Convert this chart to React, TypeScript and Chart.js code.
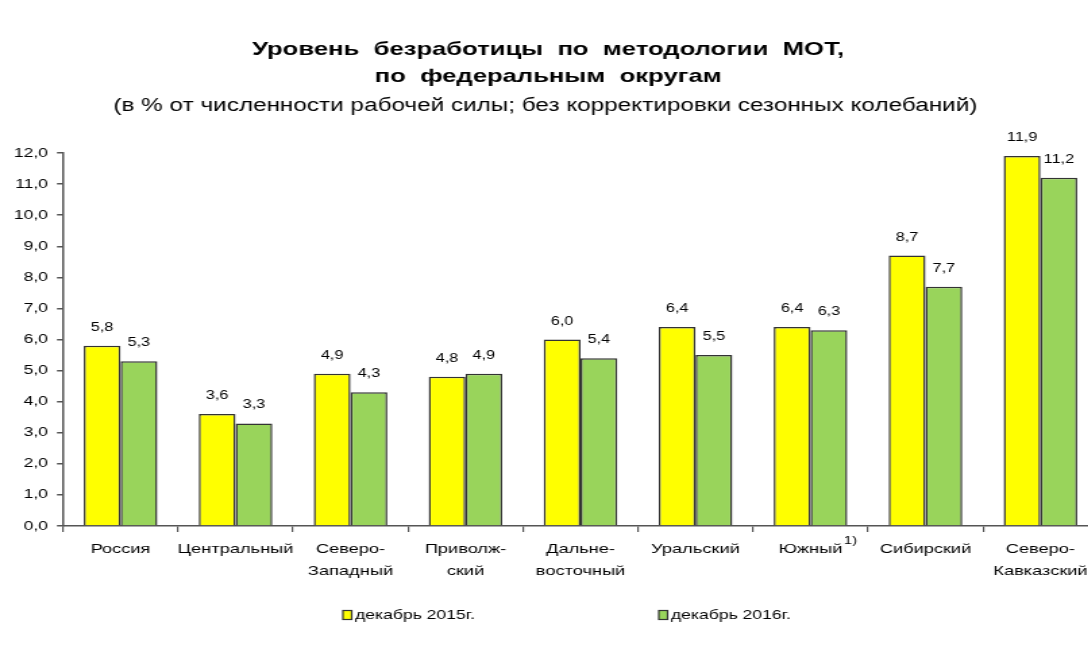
import React, { useEffect, useRef } from 'react';
import { Chart, registerables } from 'chart.js';

Chart.register(...registerables);

const categories: (string | string[])[] = [
  'Россия',
  'Центральный',
  ['Северо-', 'Западный'],
  ['Приволж-', 'ский'],
  ['Дальне-', 'восточный'],
  'Уральский',
  'Южный',
  'Сибирский',
  ['Северо-', 'Кавказский'],
];
const dec2015 = [5.8, 3.6, 4.9, 4.8, 6.0, 6.4, 6.4, 8.7, 11.9];
const dec2016 = [5.3, 3.3, 4.3, 4.9, 5.4, 5.5, 6.3, 7.7, 11.2];
const seriesNames = ['декабрь 2015г.', 'декабрь 2016г.'];
const seriesColors = ['#FFFF00', '#99D45B'];
const titleLines = ['Уровень  безработицы  по  методологии  МОТ,', 'по  федеральным  округам'];
const subtitleText = '(в % от численности рабочей силы; без корректировки сезонных колебаний)';
const footnoteIndex = 6;
const footnoteMark = '1)';
const yMin = 0;
const yMax = 12;
const yStep = 1;

const FONT = '"Liberation Sans", Arial, sans-serif';
const STRETCH = 1.35;
const CW = 850;
const CH = 657;
const XFONT = 13.5;

const fmt = (v: number) => v.toFixed(1).replace('.', ',');

const valueLabels = {
  id: 'valueLabels',
  afterDatasetsDraw(chart: any) {
    const ctx = chart.ctx;
    ctx.save();
    ctx.font = `12px ${FONT}`;
    ctx.fillStyle = '#000';
    ctx.textAlign = 'center';
    ctx.textBaseline = 'alphabetic';
    chart.data.datasets.forEach((ds: any, di: number) => {
      const meta = chart.getDatasetMeta(di);
      meta.data.forEach((el: any, i: number) => {
        ctx.fillText(fmt(ds.data[i]), el.x, el.y - 15);
      });
    });
    ctx.restore();
  },
};

const decorations = {
  id: 'decorations',
  afterDraw(chart: any) {
    const ctx = chart.ctx;
    const area = chart.chartArea;
    ctx.save();
    ctx.fillStyle = '#000';
    ctx.textAlign = 'center';
    ctx.textBaseline = 'middle';
    const tx = 406;
    ctx.font = `bold 19px ${FONT}`;
    ctx.fillText(titleLines[0], tx, 50);
    ctx.fillText(titleLines[1], tx, 77);
    ctx.font = `18px ${FONT}`;
    ctx.fillText(subtitleText, tx - 2, 106);

    // footnote mark next to label
    const xs = chart.scales.x;
    ctx.font = `${XFONT}px ${FONT}`;
    const lw = ctx.measureText(String(categories[footnoteIndex])).width;
    ctx.font = `11px ${FONT}`;
    ctx.textAlign = 'left';
    ctx.fillText(footnoteMark, xs.getPixelForValue(footnoteIndex) + lw / 2 + 1, 541);

    // legend
    const cx = (area.left + area.right) / 2;
    const starts = [cx - 176, cx + 58];
    const ly = 615;
    ctx.font = `13px ${FONT}`;
    seriesNames.forEach((name, i) => {
      const bx = starts[i];
      ctx.fillStyle = seriesColors[i];
      ctx.fillRect(bx, ly - 4.5, 6.5, 9);
      ctx.strokeStyle = '#333';
      ctx.lineWidth = 1.2;
      ctx.strokeRect(bx, ly - 4.5, 6.5, 9);
      ctx.fillStyle = '#000';
      ctx.textAlign = 'left';
      ctx.fillText(name, bx + 9, ly + 0.5);
    });
    ctx.restore();
  },
};

export default function App() {
  const ref = useRef<HTMLCanvasElement | null>(null);
  useEffect(() => {
    if (!ref.current) return;
    const chart = new Chart(ref.current, {
      type: 'bar',
      data: {
        labels: categories as any,
        datasets: [
          {
            label: seriesNames[0],
            data: dec2015,
            backgroundColor: seriesColors[0],
            borderColor: '#333',
            borderWidth: 1.5,
            barPercentage: 1,
            categoryPercentage: 0.64,
          },
          {
            label: seriesNames[1],
            data: dec2016,
            backgroundColor: seriesColors[1],
            borderColor: '#333',
            borderWidth: 1.5,
            barPercentage: 1,
            categoryPercentage: 0.64,
          },
        ],
      },
      options: {
        responsive: false,
        animation: false,
        devicePixelRatio: 1,
        layout: { padding: { top: 153, left: 0, right: CW - 813.3, bottom: 0 } },
        plugins: {
          legend: { display: false },
          title: { display: false },
          tooltip: { enabled: false },
        },
        scales: {
          x: {
            grid: {
              offset: true,
              drawOnChartArea: false,
              drawTicks: true,
              tickLength: 6,
              color: '#555',
              lineWidth: 1.2,
            },
            border: { color: '#555', width: 1.5 },
            ticks: {
              color: '#000',
              font: { size: XFONT, family: FONT, lineHeight: 1.62 },
              padding: 6,
              autoSkip: false,
              maxRotation: 0,
              minRotation: 0,
            },
            afterFit(scale: any) {
              scale.height = 131;
            },
          },
          y: {
            min: yMin,
            max: yMax,
            grid: {
              drawOnChartArea: false,
              drawTicks: true,
              tickLength: 4.5,
              color: '#555',
              lineWidth: 1.5,
            },
            border: { color: '#555', width: 1.5 },
            ticks: {
              stepSize: yStep,
              color: '#000',
              font: { size: 13, family: FONT },
              padding: 6.6,
              callback: (v: any) => fmt(Number(v)),
            },
            afterFit(scale: any) {
              scale.width = 46.7;
            },
          },
        },
      },
      plugins: [valueLabels, decorations],
    });
    return () => chart.destroy();
  }, []);

  return (
    <div
      style={{
        position: 'fixed',
        left: 0,
        top: 0,
        width: 1088,
        height: 657,
        overflow: 'hidden',
        background: '#fff',
      }}
    >
      <div
        style={{
          width: CW,
          height: CH,
          transform: `scaleX(${STRETCH})`,
          transformOrigin: '0 0',
        }}
      >
        <canvas ref={ref} width={CW} height={CH} style={{ display: 'block' }} />
      </div>
    </div>
  );
}
